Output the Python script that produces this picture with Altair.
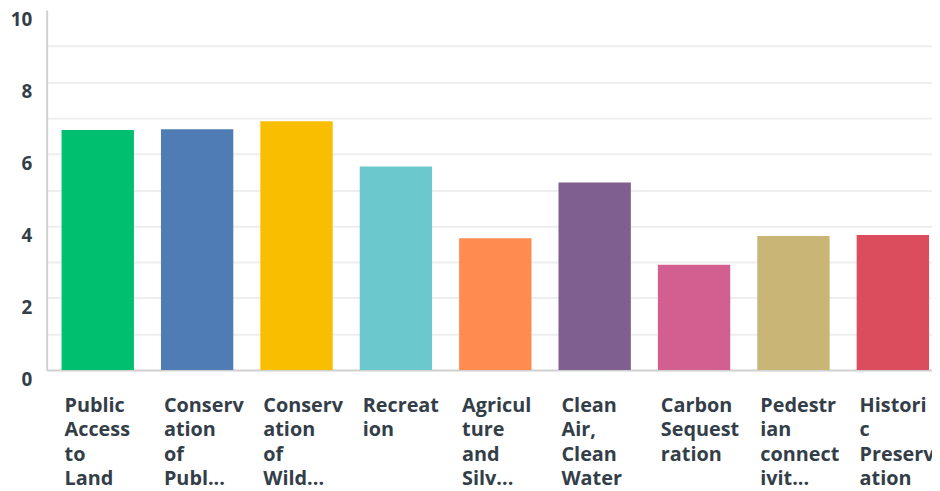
import altair as alt
import pandas as pd

categories = [
    "Public|Access|to|Land",
    "Conserv|ation|of|Publ...",
    "Conserv|ation|of|Wild...",
    "Recreat|ion",
    "Agricul|ture|and|Silv...",
    "Clean|Air,|Clean|Water",
    "Carbon|Sequest|ration",
    "Pedestr|ian|connect|ivit...",
    "Histori|c|Preserv|ation",
]
values = [6.67, 6.69, 6.91, 5.65, 3.66, 5.21, 2.92, 3.72, 3.75]
colors = ["#00bf6f", "#507cb6", "#f9be00", "#6bc8cd", "#ff8b4f",
          "#7f5f90", "#d25f90", "#c9b677", "#db4d5c"]
y_ticks = [0, 1, 2, 3, 4, 5, 6, 7, 8, 9, 10]

df = pd.DataFrame({"cat": categories, "val": values})

FONT = "Open Sans"
TEXT = "#333e48"

chart = alt.Chart(df).mark_bar().encode(
    x=alt.X("cat:N", sort=None, title=None,
            scale=alt.Scale(paddingInner=0.272, paddingOuter=0.09, align=0.833),
            axis=alt.Axis(
                labelExpr="split(datum.label, '|')",
                labelAlign="left", labelBaseline="top", labelAngle=0,
                labelOffset=-33.5, labelPadding=26, labelLineHeight=24.5,
                labelFont=FONT, labelFontSize=20, labelFontWeight=700,
                labelColor=TEXT, labelLimit=300, labelOverlap=False,
                ticks=False, domainColor="#d0d0d0", domainWidth=2,
                grid=False)),
    y=alt.Y("val:Q", title=None,
            scale=alt.Scale(domain=[0, 10], nice=False),
            axis=alt.Axis(
                values=y_ticks,
                labelExpr="datum.value % 2 == 0 ? datum.label : ''",
                labelBaseline="middle", labelOffset=10, labelPadding=15,
                labelFont=FONT, labelFontSize=19, labelFontWeight=700,
                labelColor=TEXT, ticks=False,
                domainColor="#d0d0d0", domainWidth=2,
                grid=True, gridColor="#eeeeee", gridWidth=2,
                gridOpacity=alt.condition("datum.value == 10 || datum.value == 0",
                                          alt.value(0), alt.value(1)))),
    color=alt.Color("cat:N", sort=None, legend=None,
                    scale=alt.Scale(domain=categories, range=colors)),
).properties(
    width=893, height=363,
    autosize=alt.AutoSizeParams(type="none"),
    padding={"left": 39, "top": 0, "right": 0, "bottom": 120},
).configure_view(stroke=None)

chart.save("out.html", embed_options={"renderer": "svg", "actions": False})
